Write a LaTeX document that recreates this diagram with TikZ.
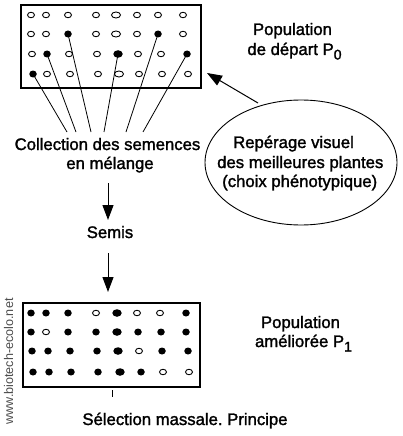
\documentclass[tikz,border=0pt]{standalone}
\usepackage{fontspec}
\setmainfont{Liberation Sans}
\newfontfamily\txtfont{Liberation Sans}[FakeBold=1.6]
\newfontfamily\wmfont{Liberation Sans}
\usetikzlibrary{arrows.meta,shapes.geometric}
\newcommand\mysub[1]{\raisebox{-4.5pt}{\fontsize{14}{14}\selectfont #1}}
\begin{document}
\begin{tikzpicture}[x=1pt,y=-1pt,
  txt/.style={font=\txtfont\fontsize{16.7}{19.5}\selectfont, inner sep=0pt, anchor=base},
  txtl/.style={txt, anchor=base west},
  box/.style={draw, line width=1.5pt},
  dotbase/.style={ellipse, inner sep=0pt, line width=0.9pt},
  doto/.style={dotbase, draw, minimum width=7pt, minimum height=5.5pt},
  dotO/.style={dotbase, draw, minimum width=9pt, minimum height=6pt},
  dotf/.style={dotbase, fill, minimum width=7.5pt, minimum height=7pt},
  dotF/.style={dotbase, fill, minimum width=9.5pt, minimum height=7.5pt},
  wire/.style={line width=0.8pt},
  arr/.style={line width=1pt, -{Triangle[length=15pt,width=11pt]}}]
\useasboundingbox (0,0) rectangle (402,436);

% top population P0
\draw[box] (21,5) rectangle (201,88);
\foreach \x/\y/\t [count=\i] in {
  31/15/o,46/15/o,68/15/o,96/15/o,116/15/O,137/15/o,158/15/o,183/15/o,
  31/34/o,46/34/o,96/34/o,116/34/O,137/34/o,183/34/o,
  32/54/o,69/54/o,97/54/o,138/54/o,161/54/o,
  47/74/o,70/74/o,98/74/o,119/74/O,139/74/o,162/74/o,188/74/o}
  \node[dot\t] (t\i) at (\x,\y) {};
\node[dotf] (f1) at (33,74) {};
\node[dotf] (f2) at (47,54) {};
\node[dotf] (f3) at (68,34) {};
\node[dotF] (f4) at (118,54) {};
\node[dotf] (f5) at (158,34) {};
\node[dotf] (f6) at (187,54) {};

\coordinate (e1) at (67,132);
\coordinate (e2) at (76,132);
\coordinate (e3) at (91,132);
\coordinate (e4) at (104,132);
\coordinate (e5) at (126,132);
\coordinate (e6) at (143,132);
\foreach \i in {1,...,6} \draw[wire] (f\i.center) -- (e\i);

\node[txt] (p0a) at (292.5,35) {Population};
\node[txt] (p0b) at (294.5,55) {de départ P\mysub{0}};

% collection
\node[txt] (coll1) at (107.5,150) {Collection des semences};
\node[txt] (coll2) at (110,169) {en mélange};

% ellipse
\node[draw, ellipse, line width=0.9pt, minimum width=192pt, minimum height=125pt, inner sep=0pt] (ell) at (301,162.5) {};
\node[txtl] (el1) at (233,148) {Repérage visuel};
\node[txtl] (el2) at (217,168) {des meilleures plantes};
\node[txtl] (el3) at (222,187) {(choix phénotypique)};
\coordinate (a3s) at (258,103);
\coordinate (a3e) at (207,73);
\draw[arr] (a3s) -- (a3e);

% semis
\coordinate (a1s) at (108,183);
\coordinate (a1e) at (108,220);
\draw[arr] (a1s) -- (a1e);
\node[txt] (semis) at (110,238) {Semis};
\coordinate (a2s) at (108,253);
\coordinate (a2e) at (108,292);
\draw[arr] (a2s) -- (a2e);

% bottom population P1
\draw[box] (23,303) rectangle (200,387);
\foreach \x/\y/\t [count=\i] in {
  31/313/f,46/313/f,68/313/f,96/313/o,117/313/F,137/313/o,160/313/o,186/313/f,
  31/332/f,46/332/o,68/332/f,96/332/f,117/332/F,138/332/f,161/332/f,186/332/f,
  32/351/f,48/351/f,70/351/f,97/351/f,118/351/F,139/351/o,162/351/f,188/351/f,
  33/372/f,49/372/f,71/372/f,98/372/f,120/372/F,141/372/f,163/372/o,189/372/o}
  \node[dot\t] (b\i) at (\x,\y) {};
\coordinate (tk1) at (112,390);
\coordinate (tk2) at (112,397);
\draw[line width=1pt] (tk1) -- (tk2);

\node[txt] (p1a) at (300.5,328) {Population};
\node[txt] (p1b) at (303.5,347) {améliorée P\mysub{1}};

\node[txt] (title) at (185,425) {Sélection massale.\ Principe};

\node[font=\wmfont\fontsize{12.6}{13}\selectfont, text=black!70, inner sep=0pt, anchor=base, rotate=90] (wm) at (13,361.5) {www.biotech-ecolo.net};
\end{tikzpicture}
\end{document}
